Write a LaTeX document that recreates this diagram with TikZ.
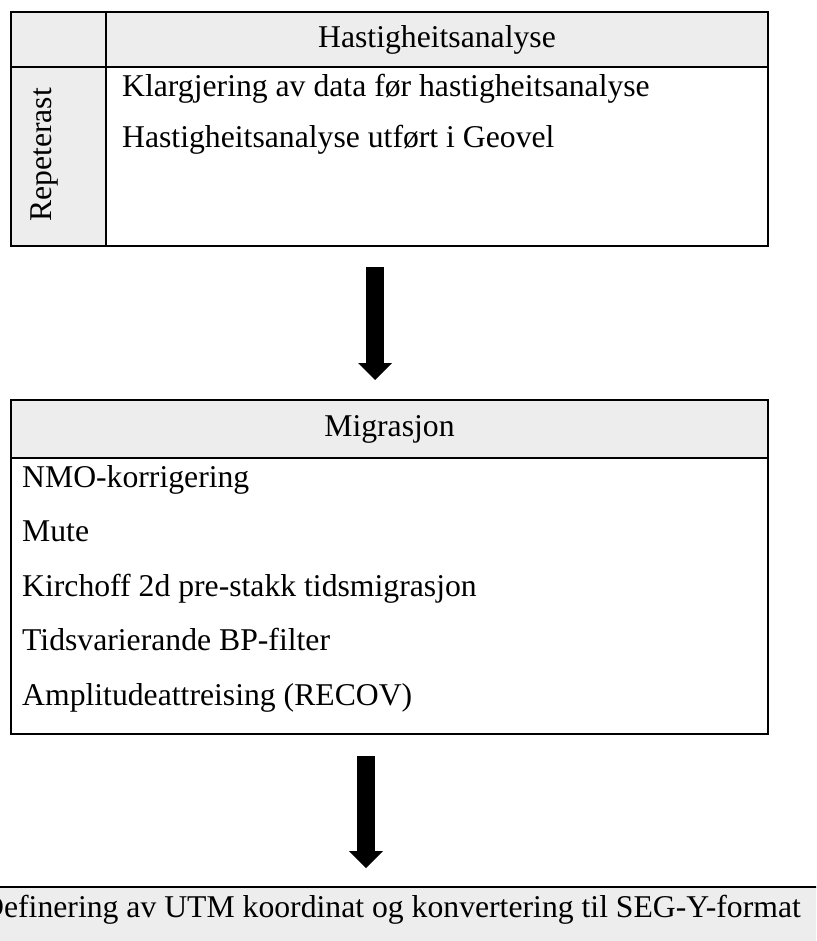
\documentclass[tikz,border=0pt]{standalone}
\usepackage{fontspec}
\setmainfont{Liberation Serif}
\usepackage{xcolor}
\usetikzlibrary{arrows.meta}
\definecolor{cellgrey}{HTML}{EDEDED}
\tikzset{
    table-cell/.style = {draw=black, line width=2pt, rectangle, anchor=north west, inner sep=0pt, font=\fontsize{31.7}{38}\selectfont},
    grey-cell/.style = {table-cell, fill=cellgrey},
    white-cell/.style = {table-cell, fill=white},
    item-text/.style = {anchor=base west, inner sep=0pt, font=\fontsize{31.7}{38}\selectfont},
    big-arrow/.style = {line width=18pt, -{Triangle[width=34pt, length=17pt, line width=0pt]}},
}

\begin{document}
\begin{tikzpicture}[x=1pt, y=-1pt]
\useasboundingbox (0,0) rectangle (816,941);
\clip (0,0) rectangle (816,941);
% first table
\node[grey-cell, minimum width=95pt, minimum height=55pt] (corner) at (10,11) {};
\node[grey-cell, minimum width=662pt, minimum height=55pt] (hast-title) at (105,11) {Hastigheitsanalyse};
\node[grey-cell, minimum width=95pt, minimum height=179pt] (repeat) at (10,66) {};
\node[white-cell, minimum width=662pt, minimum height=179pt] (hast-body) at (105,66) {};
\node[item-text, anchor=center, rotate=90] (repeat-label) at (44,155) {Repeterast};
\node[item-text] (hast-1) at (122,97) {Klargjering av data før hastigheitsanalyse};
\node[item-text] (hast-2) at (122,148) {Hastigheitsanalyse utført i Geovel};

% second table
\node[grey-cell, minimum width=757pt, minimum height=58pt] (mig-title) at (10,399) {Migrasjon};
\node[white-cell, minimum width=757pt, minimum height=276pt] (mig-body) at (10,457) {};
\node[item-text] (mig-1) at (22,487) {NMO-korrigering};
\node[item-text] (mig-2) at (22,541.5) {Mute};
\node[item-text] (mig-3) at (22,596) {Kirchoff 2d pre-stakk tidsmigrasjon};
\node[item-text] (mig-4) at (22,650.5) {Tidsvarierande BP-filter};
\node[item-text] (mig-5) at (22,705) {Amplitudeattreising (RECOV)};

% last step
\node[fill=cellgrey, anchor=north west, minimum width=840pt, minimum height=70pt] (utm-box) at (-10,887) {};
\draw[line width=2pt] (utm-box.north west) -- (utm-box.north east);
\node[item-text, anchor=base east] (utm) at (801,917) {Definering av UTM koordinat og konvertering til SEG-Y-format};

% arrows
\coordinate (arrow1-start) at (375,267);
\coordinate (arrow1-end) at (375,380);
\coordinate (arrow2-start) at (366,756);
\coordinate (arrow2-end) at (366,868);
\draw[big-arrow] (arrow1-start) -- (arrow1-end);
\draw[big-arrow] (arrow2-start) -- (arrow2-end);
\end{tikzpicture}
\end{document}
